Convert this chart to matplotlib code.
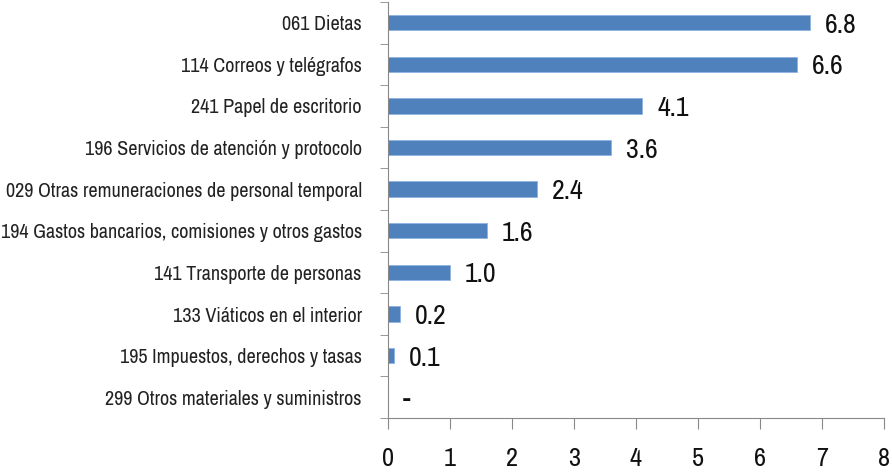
import matplotlib
matplotlib.use("Agg")
import matplotlib.pyplot as plt
from matplotlib import font_manager

categories = ["061 Dietas", "114 Correos y telégrafos", "241 Papel de escritorio",
              "196 Servicios de atención y protocolo",
              "029 Otras remuneraciones de personal temporal",
              "194 Gastos bancarios, comisiones y otros gastos",
              "141 Transporte de personas", "133 Viáticos en el interior",
              "195 Impuestos, derechos y tasas", "299 Otros materiales y suministros"]
values = [6.8, 6.6, 4.1, 3.6, 2.4, 1.6, 1.0, 0.2, 0.1, 0.0]
labels = ["6.8", "6.6", "4.1", "3.6", "2.4", "1.6", "1.0", "0.2", "0.1", "-"]
xticks = [0, 1, 2, 3, 4, 5, 6, 7, 8]

# look for a narrow / condensed regular face, else plain sans
def find_narrow():
    best = None
    for f in font_manager.fontManager.ttflist:
        fn = f.fname.lower()
        if any(k in fn for k in ("bold", "italic", "oblique", "light", "thin", "medium", "black")):
            continue
        if "narrow" in fn or "condensed" in fn or f.stretch in ("condensed", "semi-condensed", "extra-condensed"):
            score = 0 if "narrow" in fn else 1
            if best is None or score < best[0]:
                best = (score, f.fname)
    return best[1] if best else None

path = find_narrow()
if path:
    font_manager.fontManager.addfont(path)
    fam = font_manager.FontProperties(fname=path).get_name()
else:
    fam = "Liberation Sans"
plt.rcParams['font.family'] = [fam, "DejaVu Sans"]

fig = plt.figure(figsize=(8.92, 4.74), dpi=100)
ax = fig.add_axes([0.435, 0.118, 0.556, 0.878])

y = list(range(len(categories)))
ax.barh(y, values, height=0.37, color="#4f81bd", edgecolor="#8db3e2", linewidth=0.6)
ax.set_ylim(len(categories) - 0.5, -0.5)
ax.set_xlim(0, 8)

for yi, v, lab in zip(y, values, labels):
    ax.text(v + 0.24, yi + 0.06, lab, va="center", ha="left", fontsize=20, color="#111111")

ax.set_yticks(y)
ax.set_yticklabels(categories, fontsize=14.5, color="#222222")
ax.set_yticks([i + 0.5 for i in range(-1, len(categories))], minor=True)
ax.tick_params(axis="y", which="major", length=0, pad=19)
ax.tick_params(axis="y", which="minor", length=6, color="#888888")

ax.set_xticks(xticks)
ax.set_xticklabels([str(t) for t in xticks], fontsize=19, color="#111111")
ax.tick_params(axis="x", length=8, color="#888888", pad=13)

for s in ["top", "right"]:
    ax.spines[s].set_visible(False)
for s in ["left", "bottom"]:
    ax.spines[s].set_color("#888888")

fig.savefig("out.png", dpi=100)
